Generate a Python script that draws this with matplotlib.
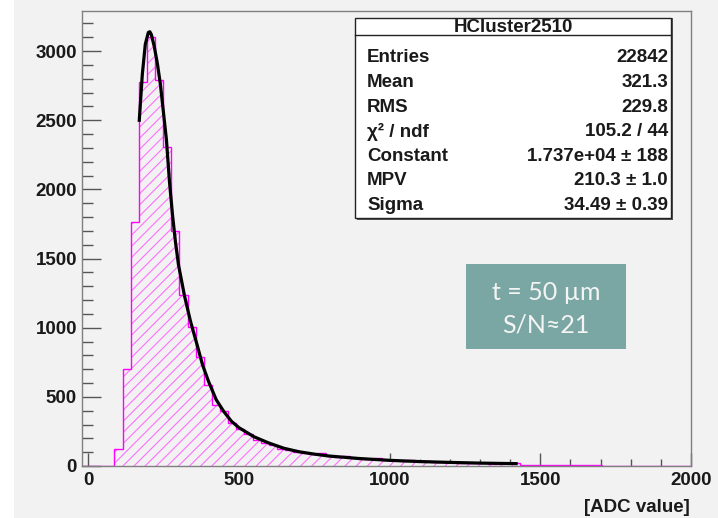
import numpy as np
import matplotlib
matplotlib.use("Agg")
import matplotlib.pyplot as plt
from matplotlib.patches import Rectangle

W, H = 718, 518

# histogram: 75 bins from -20 to 2000
hist_lo, hist_hi = -20.0, 2000.0
counts = [
    0, 0, 0, 0, 121, 699, 1761, 2775, 3100, 2790,
    2307, 1698, 1240, 1006, 790, 585, 440, 395, 312, 270,
    228, 190, 168, 150, 126, 118, 101, 96, 84, 92,
    75, 64, 74, 55, 50, 53, 56, 40, 43, 38,
    43, 33, 35, 28, 30, 26, 22, 25, 20, 23,
    18, 16, 19, 20, 10, 8, 9, 7, 10, 6,
    8, 7, 9, 6, 0, 0, 0, 0, 0, 0,
    0, 0, 0, 0, 0,
]

# landau fit curve
fit_x = [170, 180, 190, 200, 205, 210, 220, 230, 240, 250, 260, 270, 280, 290,
         300, 320, 340, 360, 380, 400, 425, 450, 475, 500, 550, 600, 650, 700,
         750, 800, 900, 1000, 1100, 1200, 1300, 1420]
fit_y = [2500, 2830, 3050, 3135, 3140, 3120, 3030, 2910, 2760, 2560, 2360, 2060,
         1820, 1620, 1455, 1230, 1045, 890, 730, 610, 480, 395, 325, 278, 212,
         166, 128, 103, 86, 72, 54, 41, 32, 26, 21, 17]

stat_title = "HCluster2510"
stat_names = ["Entries", "Mean", "RMS", "χ² / ndf", "Constant", "MPV", "Sigma"]
stat_values = ["22842", "321.3", "229.8", "105.2 / 44",
               "1.737e+04 ± 188", "210.3 ± 1.0", "34.49 ± 0.39"]
note_lines = ["t = 50 µm", "S/N≈21"]
x_ticks = [0, 500, 1000, 1500, 2000]
y_ticks = [0, 500, 1000, 1500, 2000, 2500, 3000]
x_label = "[ADC value]"

BG = "#f2f2f2"
PINK = "#ff00ff"
TXT = "#1a1a1a"
FONT = dict(family="Liberation Sans", weight="bold", size=13.5, color=TXT)


def fx(x):
    return x / W


def fy(y):
    return 1 - y / H


plt.rcParams["hatch.linewidth"] = 0.8

fig = plt.figure(figsize=(W / 100, H / 100), dpi=100, facecolor=BG)
fig.patches.append(Rectangle((0, 0), fx(14), 1, transform=fig.transFigure,
                             facecolor="white", edgecolor="none", zorder=0))

ax = fig.add_axes([fx(82), fy(466), fx(691 - 82), (466 - 11) / H])
ax.set_facecolor(BG)

edges = np.linspace(hist_lo, hist_hi, len(counts) + 1)
# hatch in a lighter pink, outline drawn on top
ax.stairs(counts, edges, fill=True, facecolor=BG, edgecolor="#ff70ff",
          hatch="///", linewidth=0, zorder=2)
ax.stairs(counts, edges, fill=False, edgecolor=PINK, linewidth=1.0, zorder=2)
ax.plot(fit_x, fit_y, color="black", linewidth=2.3, zorder=3)

ax.set_xlim(-20, 2000)
ax.set_ylim(0, 3290)
ax.set_xticks(x_ticks)
ax.set_yticks(y_ticks)
ax.set_xticks(np.arange(0, 2001, 100), minor=True)
ax.set_yticks(np.arange(0, 3201, 100), minor=True)
ax.tick_params(axis="y", which="major", direction="in", length=13.7, width=1,
               color="#555555", pad=3.6)
ax.tick_params(axis="y", which="minor", direction="in", length=7.9, width=1,
               color="#555555")
ax.tick_params(axis="x", which="major", direction="in", length=9.6, width=1,
               color="#555555", pad=4)
ax.tick_params(axis="x", which="minor", direction="in", length=5, width=1,
               color="#555555")
for lab in ax.get_xticklabels() + ax.get_yticklabels():
    lab.set(**FONT)
for sp in ax.spines.values():
    sp.set_color("#808080")
    sp.set_linewidth(1.0)

fig.text(fx(690), fy(507), x_label, ha="right", va="center", **FONT)

# stats box
fig.patches.append(Rectangle((fx(357), fy(220)), fx(671 - 355), (220 - 18) / H,
                             transform=fig.transFigure, facecolor="#555555",
                             edgecolor="none", zorder=5))
fig.patches.append(Rectangle((fx(355), fy(218)), fx(671 - 355), (218 - 18) / H,
                             transform=fig.transFigure, facecolor="white",
                             edgecolor="#222222", linewidth=1.0, zorder=6))
fig.lines.append(plt.Line2D([fx(355), fx(671)], [fy(35), fy(35)],
                            transform=fig.transFigure, color="#222222",
                            linewidth=1.0, zorder=7))
fig.text(fx(513), fy(27), stat_title, ha="center", va="center", zorder=8, **FONT)
for i, (name, val) in enumerate(zip(stat_names, stat_values)):
    yy = fy(58 + 24.5 * i)
    fig.text(fx(367), yy, name, ha="left", va="center", zorder=8, **FONT)
    fig.text(fx(668), yy, val, ha="right", va="center", zorder=8, **FONT)

# teal note box
fig.patches.append(Rectangle((fx(466), fy(349)), fx(626 - 466), (349 - 264) / H,
                             transform=fig.transFigure, facecolor="#7aa7a3",
                             edgecolor="none", zorder=5))
for i, line in enumerate(note_lines):
    fig.text(fx(546), fy(292 + 33 * i), line, ha="center", va="center",
             family=["Lato", "DejaVu Sans"], size=18, color="#f4f4f4", zorder=8)

fig.savefig("out.png", dpi=100, facecolor=BG)
